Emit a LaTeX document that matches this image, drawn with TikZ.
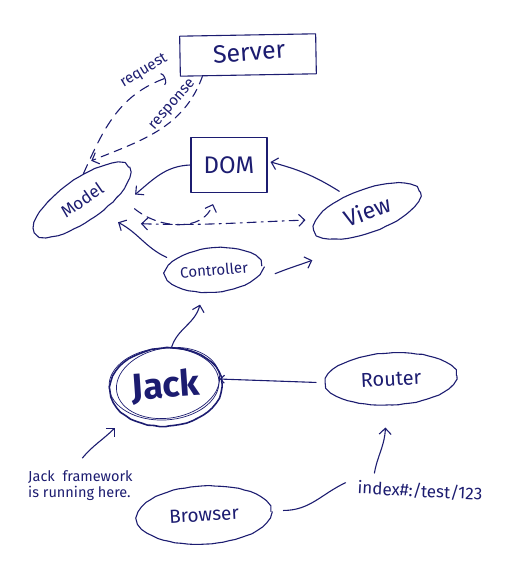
\documentclass[tikz,border=0pt]{standalone}
\usepackage{fontspec}
\setmainfont{Fira Sans}
\usetikzlibrary{shapes.geometric,arrows.meta,decorations.pathmorphing}
\definecolor{inkc}{RGB}{28,28,112}
\begin{document}
\begin{tikzpicture}[x=1pt,y=1pt,
  pen/.style={draw=inkc, line width=1.1pt, line cap=round, line join=round},
  wobble/.style={decorate, decoration={random steps, segment length=6pt, amplitude=0.35pt}},
  blob/.style={ellipse, pen, wobble, inner sep=0pt, text=inkc},
  box/.style={rectangle, pen, inner sep=0pt, text=inkc},
  tip/.style={-{Straight Barb[length=6pt,width=12pt]}},
  arr/.style={pen, tip},
  dasharr/.style={arr, dash pattern=on 9pt off 6pt},
  lbl/.style={text=inkc, inner sep=0pt}
]
\pgfmathsetseed{7}
\useasboundingbox (0,0) rectangle (504,581);

% nodes
\node[box, minimum width=136pt, minimum height=40pt, rotate=1] (server) at (248,526) {};
\node[lbl, font=\fontsize{25}{27}\selectfont, rotate=4] at (249,529) {Server};
\node[box, minimum width=76pt, minimum height=55pt] (dom) at (229,416)
  {\fontsize{24}{26}\selectfont DOM};
\node[blob, minimum width=114pt, minimum height=42pt, rotate=35] (model) at (82,381)
  {\fontsize{17}{19}\selectfont Model};
\node[blob, minimum width=112pt, minimum height=43pt, rotate=20] (view) at (367,370)
  {\fontsize{23}{25}\selectfont View};
\node[blob, minimum width=86pt, minimum height=44pt, rotate=5] (controller) at (214,311)
  {\fontsize{15}{17}\selectfont Controller};
\node[blob, minimum width=112pt, minimum height=78pt, line width=1.6pt, rotate=4] (jack) at (166,194)
  {\fontsize{36}{38}\selectfont\bfseries Jack};
\node[blob, minimum width=131pt, minimum height=52pt, rotate=3] (router) at (391,202)
  {\fontsize{20}{22}\selectfont Router};
\node[blob, minimum width=134pt, minimum height=58pt, rotate=3] (browser) at (204,66)
  {\fontsize{19}{21}\selectfont Browser};

% extra pencil loops around Jack
\draw[inkc, line width=0.7pt] ([shift={(2,4)}]jack.center) ellipse [x radius=52, y radius=35, rotate=10];
\draw[inkc, line width=0.7pt] ([shift={(-2,3)}]jack.center) ellipse [x radius=55, y radius=36, rotate=3];

% text notes
\node[lbl, anchor=north west, align=left, font=\fontsize{14.5}{16}\selectfont] (note) at (28,111)
  {Jack\ \ framework\\is running here.};
\node[lbl, font=\fontsize{17}{19}\selectfont, rotate=-3] (index) at (420,90) {index\#:/test/123};

% request / response between Model and Server
\draw[pen, dash pattern=on 10pt off 7pt, -{Arc Barb[length=3pt,width=13pt]}]
  (model.52) to[out=66, in=200] ([xshift=-14pt,yshift=-22pt]server.west);
\node[lbl, font=\fontsize{15}{17}\selectfont, rotate=31] at (144,510) {request};
\draw[dasharr, dash pattern=on 8pt off 6pt]
  ([xshift=-46pt,yshift=-1pt]server.south) to[out=250, in=22] ([yshift=9pt]model.38);
\node[lbl, font=\fontsize{15}{17}\selectfont, rotate=49] at (173,476) {response};

% solid arrows around the MVC triangle
\draw[arr] (dom.west) to[out=182, in=40] ([xshift=12pt,yshift=-4pt]model.-22);
\draw[arr] ([xshift=-4pt,yshift=6pt]view.130) to[out=148, in=345] ([xshift=3pt,yshift=3pt]dom.east);
\draw[arr] ([xshift=-8pt,yshift=2pt]controller.160) to[out=155, in=-28] ([xshift=14pt,yshift=-12pt]model.-60);
\draw[arr] ([xshift=14pt,yshift=-12pt]controller.5) to[out=22, in=200] ([xshift=-21pt,yshift=-21pt]view.200);

% dashed links from Model
\draw[pen, dash pattern=on 9pt off 5pt on 2pt off 5pt,
      {Straight Barb[length=6pt,width=12pt]}-{Straight Barb[length=6pt,width=12pt]}]
  ([xshift=35pt,yshift=-15pt]model.-55) to[out=-2, in=182] ([xshift=-10pt]view.170);
\draw[dasharr] ([xshift=22pt,yshift=-6pt]model.-40) to[out=-40, in=250] ([xshift=-16pt,yshift=-11pt]dom.south);

% Jack and its neighbours
\draw[arr] (jack.78) to[out=72, in=255] ([xshift=-14pt,yshift=-12pt]controller.265);
\draw[pen, -{Straight Barb[length=4pt,width=8pt]}] ([xshift=-9pt]router.west) -- ([xshift=-3pt,yshift=4pt]jack.east);
\draw[arr] ([xshift=2pt,yshift=12pt]note.north) to[out=50, in=225] ([xshift=-13pt,yshift=-10pt]jack.215);

% Browser to Router through the URL
\draw[pen] ([xshift=12pt,yshift=1pt]browser.east) to[out=0, in=205] ([xshift=-12pt,yshift=5pt]index.west);
\draw[arr] ([xshift=-46pt,yshift=10pt]index.north) to[out=80, in=268] ([xshift=-7pt,yshift=-22pt]router.south);
\end{tikzpicture}
\end{document}
